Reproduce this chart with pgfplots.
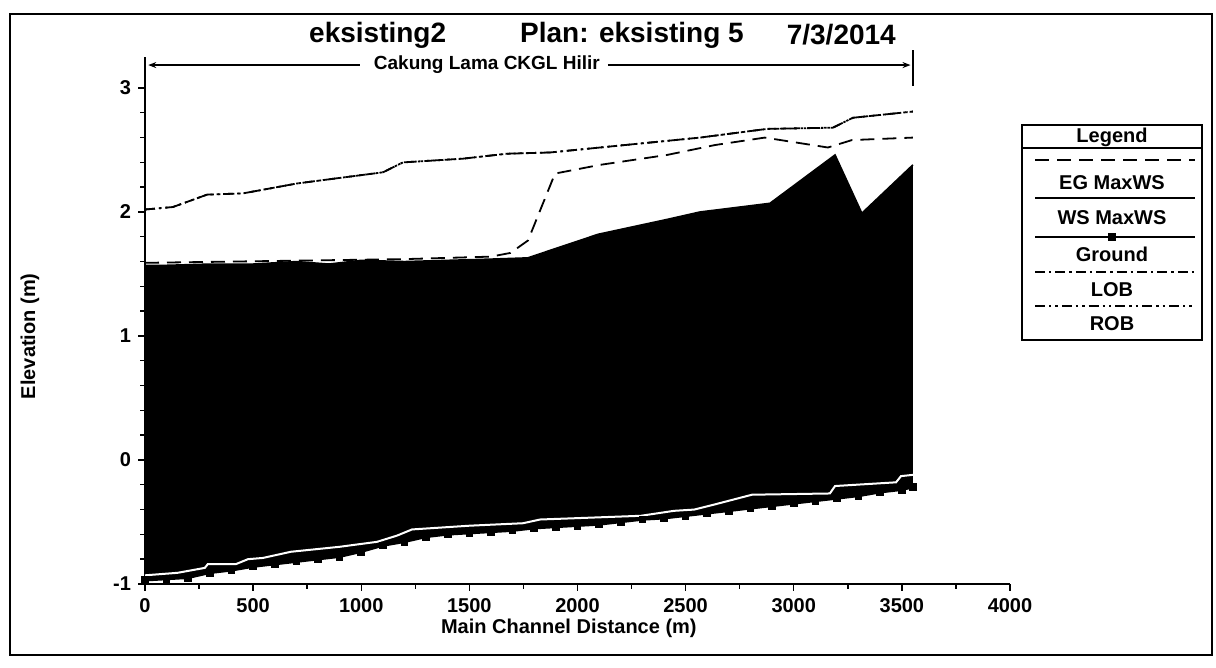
\documentclass[border=0pt]{standalone}
\usepackage{fontspec}
\setmainfont{Liberation Sans}
\usepackage{pgfplots}
\pgfplotsset{compat=1.18}
\usepgfplotslibrary{fillbetween}
\usetikzlibrary{arrows.meta}
\begin{document}
\begin{tikzpicture}[x=1pt,y=1pt]
\path (0,0) rectangle (608,334);
\draw[line width=1pt] (5,6.5) rectangle (606,327);
\begin{axis}[
  at={(72.5pt,42pt)}, anchor=south west, scale only axis,
  width=432.5pt, height=263.5pt,
  xmin=0, xmax=4000, ymin=-1, ymax=3.25,
  axis x line=bottom, axis y line=left,
  axis line style={-, line width=0.9pt},
  xtick={0,500,...,4000}, ytick={-1,0,1,2,3},
  minor x tick num=1, minor y tick num=4,
  tick align=outside, major tick length=3.5pt, minor tick length=2.5pt,
  tick style={black, line width=0.7pt},
  /pgf/number format/assume math mode=true,
  /pgf/number format/1000 sep={},
  ticklabel style={font=\bfseries\fontsize{10}{11}\selectfont},
  label style={font=\bfseries\fontsize{10}{11}\selectfont},
  xlabel={Main Channel Distance (m)},
  ylabel={Elevation (m)},
  xlabel style={at={(axis description cs:0.49,-0.0835)}, anchor=center},
  ylabel style={at={(axis description cs:-0.133,0.47)}, anchor=center},
  clip=false,
]
% water surface
\addplot[draw=none, name path=ws] coordinates {
(0,1.57)(100,1.57)(300,1.58)(500,1.58)(700,1.60)(850,1.58)(1000,1.61)(1200,1.60)
(1400,1.61)(1600,1.62)(1770,1.63)(2095,1.82)(2414,1.94)(2566,2.00)(2890,2.07)
(3191,2.46)(3315,1.99)(3551,2.38)};
% ground
\addplot[draw=none, name path=gr] coordinates {
(0,-0.97)(100,-0.96)(200,-0.95)(300,-0.91)(400,-0.89)(500,-0.86)(600,-0.84)
(700,-0.82)(800,-0.80)(900,-0.78)(1000,-0.74)(1100,-0.69)(1200,-0.66)(1300,-0.62)
(1400,-0.60)(1500,-0.59)(1600,-0.58)(1700,-0.57)(1800,-0.55)(1900,-0.54)(2000,-0.53)
(2100,-0.52)(2200,-0.50)(2300,-0.48)(2400,-0.47)(2500,-0.45)(2600,-0.43)(2700,-0.41)
(2800,-0.39)(2900,-0.37)(3000,-0.35)(3100,-0.33)(3200,-0.31)(3300,-0.29)(3400,-0.26)
(3500,-0.24)(3551,-0.22)};
\addplot[black] fill between[of=ws and gr];
% WS line
\addplot[black, line width=0.8pt] coordinates {
(0,1.57)(100,1.57)(300,1.58)(500,1.58)(700,1.60)(850,1.58)(1000,1.61)(1200,1.60)
(1400,1.61)(1600,1.62)(1770,1.63)(2095,1.82)(2414,1.94)(2566,2.00)(2890,2.07)
(3191,2.46)(3315,1.99)(3551,2.38)};
% white trace inside water
\addplot[white, line width=1pt] coordinates {
(0,-0.93)(150,-0.91)(277,-0.87)(290,-0.84)(420,-0.84)(476,-0.80)(545,-0.79)
(675,-0.74)(900,-0.70)(1073,-0.66)(1165,-0.61)(1235,-0.56)(1500,-0.53)(1748,-0.51)
(1827,-0.48)(2293,-0.45)(2446,-0.41)(2539,-0.40)(2631,-0.36)(2807,-0.28)(3167,-0.27)
(3191,-0.21)(3473,-0.18)(3496,-0.13)(3551,-0.12)};
% ground line with markers
\addplot[black, line width=1.2pt, mark=square*, mark size=1.3pt] coordinates {
(0,-0.97)(100,-0.96)(200,-0.95)(300,-0.91)(400,-0.89)(500,-0.86)(600,-0.84)
(700,-0.82)(800,-0.80)(900,-0.78)(1000,-0.74)(1100,-0.69)(1200,-0.66)(1300,-0.62)
(1400,-0.60)(1500,-0.59)(1600,-0.58)(1700,-0.57)(1800,-0.55)(1900,-0.54)(2000,-0.53)
(2100,-0.52)(2200,-0.50)(2300,-0.48)(2400,-0.47)(2500,-0.45)(2600,-0.43)(2700,-0.41)
(2800,-0.39)(2900,-0.37)(3000,-0.35)(3100,-0.33)(3200,-0.31)(3300,-0.29)(3400,-0.26)
(3500,-0.24)(3551,-0.22)};
% EG
\addplot[black, line width=0.9pt, dash pattern=on 7pt off 4pt] coordinates {
(0,1.59)(400,1.60)(800,1.61)(1200,1.62)(1600,1.64)(1690,1.67)(1771,1.77)(1896,2.31)
(2104,2.38)(2414,2.46)(2636,2.54)(2866,2.60)(3158,2.52)(3269,2.58)(3551,2.60)};
% LOB
\addplot[black, line width=0.9pt, dash pattern=on 5pt off 2pt on 1.2pt off 2pt] coordinates {
(0,2.02)(129,2.04)(287,2.14)(453,2.15)(703,2.23)(1100,2.32)(1193,2.40)(1470,2.43)
(1674,2.47)(1873,2.48)(2104,2.52)(2566,2.60)(2876,2.67)(3181,2.68)(3274,2.76)(3551,2.81)};
% ROB
\addplot[black, line width=0.9pt, dash pattern=on 5pt off 2pt on 1.2pt off 2pt on 1.2pt off 2pt] coordinates {
(0,2.02)(129,2.04)(287,2.14)(453,2.15)(703,2.23)(1100,2.32)(1193,2.40)(1470,2.43)
(1674,2.47)(1873,2.48)(2104,2.52)(2566,2.60)(2876,2.67)(3181,2.68)(3274,2.76)(3551,2.81)};
% reach annotation
\node[font=\bfseries\fontsize{9.5}{11}\selectfont] at (axis cs:1581,3.185) {Cakung Lama CKGL Hilir};
\draw[-{Stealth[length=4pt,width=3pt]}, line width=0.7pt] (axis cs:994,3.185) -- (axis cs:15,3.185);
\draw[-{Stealth[length=4pt,width=3pt]}, line width=0.7pt] (axis cs:2140,3.185) -- (axis cs:3540,3.185);
\draw[line width=0.7pt] (axis cs:3551,3.02) -- (axis cs:3551,3.31);
% title
\node[font=\bfseries\fontsize{14}{16}\selectfont] at (axis description cs:0.269,1.042) {eksisting2};
\node[font=\bfseries\fontsize{14}{16}\selectfont] at (axis description cs:0.563,1.042) {Plan: eksisting 5};
\node[font=\bfseries\fontsize{14}{16}\selectfont] at (axis description cs:0.805,1.042) {7/3/2014};
\end{axis}
% legend
\draw[line width=0.9pt] (511,271.5) rectangle (601,164);
\node[font=\bfseries\fontsize{10}{11}\selectfont] at (556,265.5) {Legend};
\draw[line width=0.7pt] (511,260) -- (601,260);
\draw[line width=0.9pt, dash pattern=on 7pt off 4pt] (517.5,254) -- (597.5,254);
\node[font=\bfseries\fontsize{10}{11}\selectfont] at (556,242.5) {EG MaxWS};
\draw[line width=0.8pt] (517.5,235) -- (597.5,235);
\node[font=\bfseries\fontsize{10}{11}\selectfont] at (556,225) {WS MaxWS};
\draw[line width=1.2pt] (517.5,215.5) -- (597.5,215.5);
\fill (554,213.5) rectangle (558,217.5);
\node[font=\bfseries\fontsize{10}{11}\selectfont] at (556,207) {Ground};
\draw[line width=0.9pt, dash pattern=on 5pt off 2pt on 1.2pt off 2pt] (517.5,198) -- (597.5,198);
\node[font=\bfseries\fontsize{10}{11}\selectfont] at (556,189) {LOB};
\draw[line width=0.9pt, dash pattern=on 5pt off 2pt on 1.2pt off 2pt on 1.2pt off 2pt] (517.5,181) -- (597.5,181);
\node[font=\bfseries\fontsize{10}{11}\selectfont] at (556,172) {ROB};
\end{tikzpicture}
\end{document}
